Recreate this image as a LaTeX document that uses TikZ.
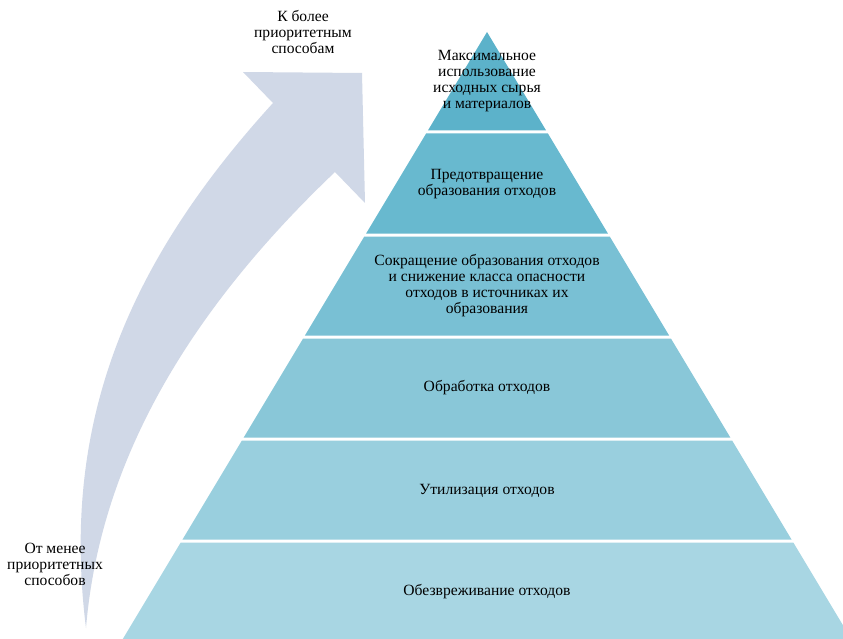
\documentclass[tikz,border=0pt]{standalone}
\usepackage{fontspec}
\setmainfont{Liberation Serif}
\definecolor{arrowc}{HTML}{D0D8E7}
\definecolor{lay1}{HTML}{5CB2CA}
\definecolor{lay2}{HTML}{68B9CF}
\definecolor{lay3}{HTML}{79C0D4}
\definecolor{lay4}{HTML}{89C7D8}
\definecolor{lay5}{HTML}{99CFDE}
\definecolor{lay6}{HTML}{A8D6E3}
\tikzset{
  lbl/.style={align=center, text=black, font=\fontsize{15.6}{16}\selectfont, inner sep=0pt},
}
\begin{document}
\begin{tikzpicture}[x=1pt,y=-1pt]
\useasboundingbox (0,0) rectangle (843,639);
\clip (0,0) rectangle (843,639);
\fill[white] (0,0) rectangle (843,639);
% curved arrow
\fill[arrowc] (86,628) .. controls (60,420) and (130,260) .. (273,103)
  -- (243,72) -- (362,73) -- (365,203) -- (335,172)
  .. controls (190,310) and (100,460) .. (86,628) -- cycle;
% pyramid layers
\foreach \ta/\tb/\col in {32/130.5/lay1, 133.5/233.5/lay2, 236.5/335.5/lay3, 338.5/437.5/lay4, 440.5/539.5/lay5, 542.5/639/lay6}{
  \fill[\col] ({487-0.6*(\ta-32)},\ta) -- ({487+0.6*(\ta-32)},\ta) -- ({487+0.6*(\tb-32)},\tb) -- ({487-0.6*(\tb-32)},\tb) -- cycle;
}
\node[lbl] (t1) at (487,81) {Максимальное\\использование\\исходных сырья\\и материалов};
\node[lbl] (t2) at (487,184) {Предотвращение\\образования отходов};
\node[lbl] (t3) at (487,286) {Сокращение образования отходов\\и снижение класса опасности\\отходов в источниках их\\образования};
\node[lbl] (t4) at (487,388) {Обработка отходов};
\node[lbl] (t5) at (487,491) {Утилизация отходов};
\node[lbl] (t6) at (487,592) {Обезвреживание отходов};
\node[lbl] (up) at (303,32) {К более\\приоритетным\\способам};
\node[lbl] (low) at (55,564) {От менее\\приоритетных\\способов};
\end{tikzpicture}
\end{document}
